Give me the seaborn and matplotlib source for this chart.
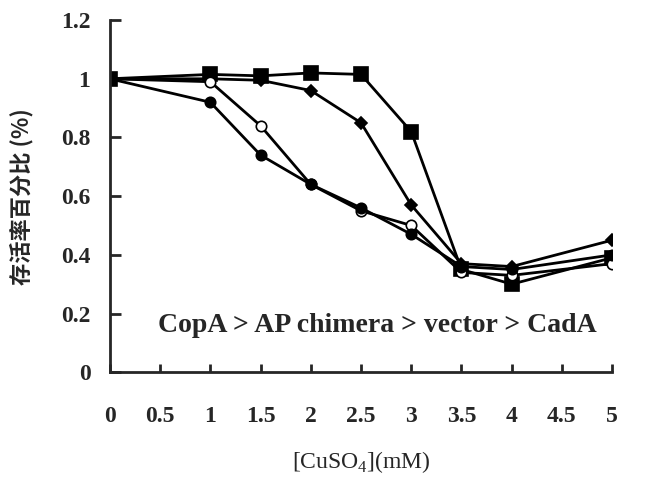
import pandas as pd
import matplotlib.pyplot as plt
import seaborn as sns

# === 1. Data ===
cuso4 = [0, 1, 1.5, 2, 2.5, 3, 3.5, 4, 5]
copa = [1.0, 1.015, 1.01, 1.02, 1.015, 0.82, 0.35, 0.30, 0.39]
ap_chimera = [1.0, 1.0, 0.995, 0.96, 0.85, 0.57, 0.37, 0.36, 0.45]
vector = [1.0, 0.99, 0.84, 0.64, 0.55, 0.50, 0.34, 0.33, 0.37]
cada = [1.0, 0.92, 0.74, 0.64, 0.56, 0.47, 0.36, 0.35, 0.40]

y_ticks = [0, 0.2, 0.4, 0.6, 0.8, 1.0, 1.2]
y_tick_labels = ["0", "0.2", "0.4", "0.6", "0.8", "1", "1.2"]
x_ticks = [0, 0.5, 1, 1.5, 2, 2.5, 3, 3.5, 4, 4.5, 5]
x_tick_labels = ["0", "0.5", "1", "1.5", "2", "2.5", "3", "3.5", "4", "4.5", "5"]

# === 2. Style ===
sns.set_style("ticks")
plt.rcParams['font.family'] = ['Liberation Serif', 'DejaVu Serif']
plt.rcParams['mathtext.fontset'] = 'custom'
plt.rcParams['mathtext.rm'] = 'Liberation Serif'

fig = plt.figure(figsize=(6.54, 4.79), dpi=100)
ax = fig.add_axes([0.168, 0.223, 0.768, 0.735])

# === 3. Curves ===
series = [
    ("CopA", copa, "s", "black", 10),
    ("AP chimera", ap_chimera, "D", "black", 6),
    ("vector", vector, "o", "white", 7.5),
    ("CadA", cada, "o", "black", 7.5),
]
for name, vals, mk, face, ms in series:
    df = pd.DataFrame({"x": cuso4, "y": vals})
    sns.lineplot(data=df, x="x", y="y", ax=ax, color="black", linewidth=2,
                 marker=mk, markersize=ms, markerfacecolor=face,
                 markeredgecolor="black", markeredgewidth=1.2)

# === 4. Axes ===
ax.set_xlim(0, 5)
ax.set_ylim(0, 1.2)
ax.set_xticks(x_ticks)
ax.set_xticklabels(x_tick_labels, fontsize=17, fontweight="bold")
ax.set_yticks(y_ticks)
ax.set_yticklabels(y_tick_labels, fontsize=17, fontweight="bold")
ax.tick_params(axis="x", direction="in", length=6, width=2, pad=24)
ax.tick_params(axis="y", direction="in", length=8, width=2, pad=14)
sns.despine(ax=ax)
for side in ["left", "bottom"]:
    ax.spines[side].set_linewidth(2)

ax.set_xlabel("[CuSO$_4$](mM)", fontsize=17, labelpad=16)
ax.set_ylabel("存活率百分比 (%)", fontsize=16, fontweight="bold",
              family=["Noto Sans CJK SC", "DejaVu Sans"], labelpad=20)

ax.text(2.66, 0.16, "CopA > AP chimera > vector > CadA", ha="center",
        va="center", fontsize=20, fontweight="bold")

plt.savefig("out.png", dpi=100)
